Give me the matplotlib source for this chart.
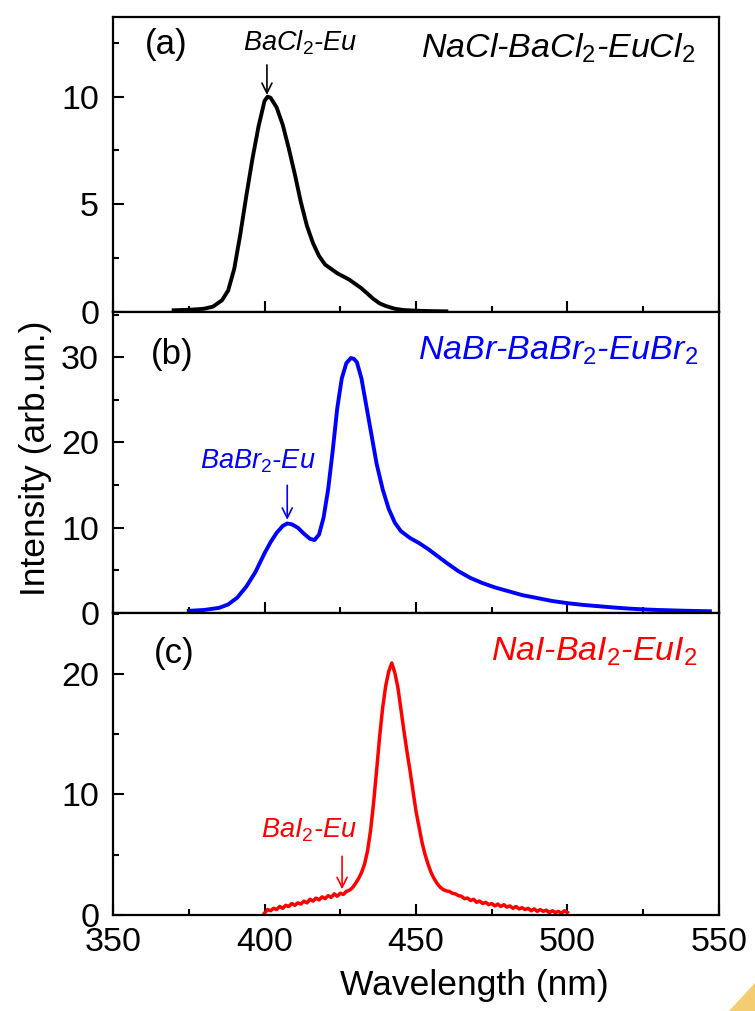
import matplotlib
matplotlib.use('Agg')
import matplotlib.pyplot as plt
from matplotlib.ticker import MultipleLocator
from matplotlib.patches import Polygon

plt.rcParams['font.family'] = ['Liberation Sans', 'DejaVu Sans']
plt.rcParams['mathtext.fontset'] = 'custom'
plt.rcParams['mathtext.rm'] = 'Liberation Sans'
plt.rcParams['mathtext.it'] = 'Liberation Sans:italic'

# (a) NaCl-BaCl2-EuCl2
wl_a = [370, 375, 380, 383, 386, 388, 390, 392, 394, 396, 398, 400, 401, 402, 404, 406,
        408, 410, 412, 414, 416, 418, 420, 422, 424, 426, 428, 430, 432, 434, 436, 438,
        440, 443, 446, 450, 455, 460]
int_a = [0.08, 0.10, 0.15, 0.25, 0.55, 1.0, 2.0, 3.6, 5.4, 7.1, 8.6, 9.8, 10.0, 9.95, 9.5, 8.7,
         7.6, 6.4, 5.1, 4.0, 3.2, 2.6, 2.2, 2.0, 1.8, 1.65, 1.5, 1.3, 1.1, 0.85, 0.6, 0.4,
         0.28, 0.15, 0.09, 0.06, 0.04, 0.03]

# (b) NaBr-BaBr2-EuBr2
wl_b = [375, 380, 385, 388, 391, 394, 397, 400, 402, 404, 406, 407.5, 409, 411, 413, 415,
        416.5, 418, 419.5, 421, 422.5, 424, 425.5, 427, 428.5, 429.5, 430.5, 432, 433.5, 435,
        437, 439, 441, 443, 445, 448, 451, 454, 457, 460, 464, 468, 472, 476, 480, 485, 490,
        495, 500, 505, 510, 515, 520, 525, 530, 535, 540, 547]
int_b = [0.25, 0.35, 0.6, 1.0, 1.8, 3.1, 4.8, 7.0, 8.3, 9.4, 10.2, 10.5, 10.4, 10.0, 9.3, 8.7,
         8.55, 9.2, 11.2, 14.5, 19.0, 24.0, 27.5, 29.3, 29.9, 29.8, 29.4, 27.5, 24.5, 21.5,
         17.5, 14.5, 12.2, 10.6, 9.6, 8.8, 8.2, 7.5, 6.7, 5.9, 4.9, 4.1, 3.5, 3.0, 2.6, 2.1, 1.75,
         1.4, 1.15, 0.95, 0.8, 0.65, 0.52, 0.42, 0.35, 0.3, 0.25, 0.2]

# (c) NaI-BaI2-EuI2 (noisy spectrum, 1 nm steps)
wl_c = list(range(400, 501))
int_c = [0.15, 0.45, 0.35, 0.55, 0.45, 0.7, 0.55, 0.8, 0.7, 0.95,
         0.8, 1.0, 0.9, 1.15, 1.0, 1.3, 1.15, 1.4, 1.25, 1.5,
         1.35, 1.6, 1.45, 1.75, 1.55, 1.8, 1.7, 1.95, 2.05, 2.25,
         2.6, 3.0, 3.5, 4.2, 5.3, 7.0, 9.3, 12.0, 14.8, 17.2,
         19.0, 20.2, 20.9, 20.1, 18.9, 17.1, 15.3, 13.6, 12.0, 10.3,
         8.6, 7.3, 6.0, 5.0, 4.2, 3.5, 3.0, 2.6, 2.3, 2.1,
         2.0, 1.95, 1.8, 1.75, 1.6, 1.55, 1.35, 1.4, 1.2, 1.3,
         1.05, 1.15, 0.95, 1.05, 0.85, 0.95, 0.75, 0.9, 0.7, 0.85,
         0.65, 0.75, 0.55, 0.7, 0.5, 0.6, 0.45, 0.55, 0.35, 0.5,
         0.3, 0.45, 0.3, 0.4, 0.2, 0.35, 0.2, 0.3, 0.15, 0.35, 0.2]

fig = plt.figure(figsize=(7.55, 10.11), dpi=100)
ax_a = fig.add_axes([0.1497, 0.6914, 0.8026, 0.2918])
ax_b = fig.add_axes([0.1497, 0.3937, 0.8026, 0.2977])
ax_c = fig.add_axes([0.1497, 0.0950, 0.8026, 0.2987])

ax_a.plot(wl_a, int_a, color='black', lw=2.8)
ax_b.plot(wl_b, int_b, color='#0000ff', lw=2.8)
ax_c.plot(wl_c, int_c, color='#ff0000', lw=2.5)

ax_a.set_ylim(0, 13.7)
ax_b.set_ylim(0, 35.3)
ax_c.set_ylim(0, 25.05)
ax_a.yaxis.set_major_locator(MultipleLocator(5))
ax_a.yaxis.set_minor_locator(MultipleLocator(2.5))
for ax in (ax_b, ax_c):
    ax.yaxis.set_major_locator(MultipleLocator(10))
    ax.yaxis.set_minor_locator(MultipleLocator(5))

for ax in (ax_a, ax_b, ax_c):
    ax.set_xlim(350, 550)
    ax.xaxis.set_major_locator(MultipleLocator(50))
    ax.xaxis.set_minor_locator(MultipleLocator(25))
    ax.tick_params(which='both', direction='in', width=1.5, labelsize=24.5)
    ax.tick_params(which='major', length=8)
    ax.tick_params(which='minor', length=4)
    ax.tick_params(axis='y', pad=10)
    ax.tick_params(axis='x', pad=9)
    for sp in ax.spines.values():
        sp.set_linewidth(1.6)
ax_a.tick_params(axis='x', labelbottom=False)
ax_b.tick_params(axis='x', labelbottom=False)

# panel labels
ax_a.text(360.5, 12.4, '(a)', fontsize=25, va='center')
ax_b.text(362.5, 30.3, '(b)', fontsize=25, va='center')
ax_c.text(363.5, 21.7, '(c)', fontsize=25, va='center')

ax_a.text(0.962, 0.895, 'NaCl-BaCl$_2$-EuCl$_2$', transform=ax_a.transAxes,
          fontsize=24.5, style='italic', ha='right', va='center', color='black')
ax_b.text(0.965, 0.87, 'NaBr-BaBr$_2$-EuBr$_2$', transform=ax_b.transAxes,
          fontsize=24.5, style='italic', ha='right', va='center', color='#0000ff')
ax_c.text(0.965, 0.87, 'NaI-BaI$_2$-EuI$_2$', transform=ax_c.transAxes,
          fontsize=24.5, style='italic', ha='right', va='center', color='#ff0000')

# arrows with phase labels
ax_a.annotate('', xy=(400.8, 9.95), xytext=(400.8, 11.6),
              arrowprops=dict(arrowstyle='->', color='black', lw=1.2, mutation_scale=18))
ax_a.text(393, 12.5, 'BaCl$_2$-Eu', fontsize=19.5, style='italic', va='center')
ax_b.annotate('', xy=(407.5, 10.6), xytext=(407.5, 15.3),
              arrowprops=dict(arrowstyle='->', color='#0000ff', lw=1.2, mutation_scale=18))
ax_b.text(378.7, 17.8, 'BaBr$_2$-Eu', fontsize=19.5, style='italic', va='center', color='#0000ff')
ax_c.annotate('', xy=(425.6, 1.9), xytext=(425.6, 5.1),
              arrowprops=dict(arrowstyle='->', color='#ff0000', lw=1.2, mutation_scale=18))
ax_c.text(399, 7.0, 'BaI$_2$-Eu', fontsize=19.5, style='italic', va='center', color='#ff0000')

fig.text(0.047, 1 - 458 / 1011, 'Intensity (arb.un.)', rotation=90, fontsize=25.5,
         ha='center', va='center')
fig.text(474 / 755, 1 - 985 / 1011, 'Wavelength (nm)', fontsize=25.5, ha='center', va='center')

# corner decoration
fig.patches.append(Polygon([[0.965, 0.0], [1.0, 0.0], [1.0, 0.028]], closed=True,
                           transform=fig.transFigure, facecolor='#f2c14e', edgecolor='none',
                           alpha=0.8))

fig.savefig('out.png', dpi=100)
